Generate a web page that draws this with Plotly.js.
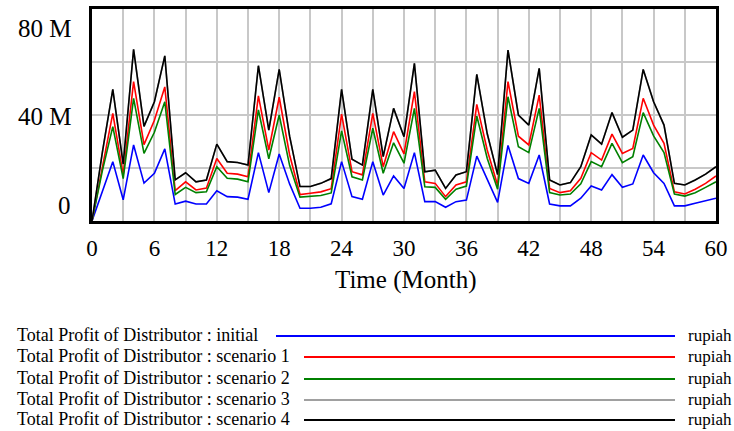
<!DOCTYPE html>
<html>
<head>
<meta charset="utf-8">
<script src="https://cdn.plot.ly/plotly-3.0.1.min.js"></script>
<style>html,body{margin:0;padding:0;background:#fff;}#chart{width:734px;height:431px;}</style>
</head>
<body>
<div id="chart"></div>
<script>
// Months 0..60
var months = [];
for (var i = 0; i <= 60; i++) months.push(i);

// Values in millions of rupiah
var initial = [0, 11.5, 22.4, 8, 28.7, 14.3, 18, 27.2, 6.4, 7.5,
  6.4, 6.4, 11.4, 9.2, 9, 8.2, 25.8, 10.7, 25.3, 14,
  4.8, 4.8, 5.2, 6.5, 22.4, 9.2, 8.2, 22.4, 9.8, 17,
  12.3, 25.8, 7.3, 7.3, 5.2, 7.3, 7.9, 24.5, 15.5, 7,
  28.5, 16, 14.2, 24.9, 6.4, 5.7, 5.7, 8.6, 13.2, 11.7,
  17.5, 12.7, 14, 24.9, 18.2, 14.2, 5.7, 5.7, 6.7, 7.7, 8.6];
var scenario1 = [0, 21, 40.6, 17.5, 52.6, 28.8, 38, 50.6, 11.5, 14.8,
  11.7, 12.4, 23.6, 18, 17.7, 16.7, 47.2, 26.8, 46.7, 25,
  10, 10.5, 11, 12.2, 40.3, 18.6, 17.4, 40.6, 20.5, 33.7,
  25.3, 48.8, 14.8, 14.2, 9.2, 13.6, 14.8, 44, 26.8, 13.5,
  52.6, 32, 28.7, 47.5, 12.3, 10.7, 11.4, 16.1, 25.8, 23,
  32.8, 25.5, 27.4, 46.3, 36.2, 29.3, 11, 10.2, 12, 14.2, 17];
var scenario2 = [0, 19, 35.6, 16, 46.3, 25.5, 33.5, 45, 10, 12.7,
  10.7, 11, 20.5, 16.1, 15.8, 14.8, 41.9, 23.5, 40, 21,
  9, 9.2, 9.6, 10.6, 34, 16.7, 15.5, 35, 18, 29.5,
  21.8, 42.5, 12.9, 12.7, 8.2, 12, 13.2, 39.6, 23.7, 12,
  46.9, 28, 25.8, 42.5, 10.7, 9.8, 10.2, 14, 22.4, 20.5,
  29.3, 22, 24.3, 40.9, 32.1, 25.8, 10.2, 9.4, 10.7, 12.7, 14.8];
var scenario3 = [0, 26, 49.7, 21.5, 64.8, 35.7, 45, 62.3, 15.5, 18.2,
  14.8, 15.5, 29, 22.4, 22.1, 21.1, 58.6, 34.3, 57.2, 32,
  13, 13, 14.2, 16, 49.7, 23.3, 21.1, 49.7, 24.3, 42.5,
  31.8, 59.5, 18.6, 19.2, 12.3, 17.4, 18.6, 55.3, 33, 17.5,
  64.5, 40, 36.2, 57.6, 15.5, 13.6, 14.5, 20.5, 32.5, 29,
  40.9, 31.6, 34.3, 57.2, 45, 36.2, 14.2, 13.6, 15.5, 17.7, 20.5];
var scenario4 = [0, 26, 49.7, 21.5, 64.8, 35.7, 45, 62.3, 15.5, 18.2,
  14.8, 15.5, 29, 22.4, 22.1, 21.1, 58.6, 34.3, 57.2, 32,
  13, 13, 14.2, 16, 49.7, 23.3, 21.1, 49.7, 24.3, 42.5,
  31.8, 59.5, 18.6, 19.2, 12.3, 17.4, 18.6, 55.3, 33, 17.5,
  64.5, 40, 36.2, 57.6, 15.5, 13.6, 14.5, 20.5, 32.5, 29,
  40.9, 31.6, 34.3, 57.2, 45, 36.2, 14.2, 13.6, 15.5, 17.7, 20.5];

var seriesNames = ["Total Profit of Distributor : initial",
  "Total Profit of Distributor : scenario 1",
  "Total Profit of Distributor : scenario 2",
  "Total Profit of Distributor : scenario 3",
  "Total Profit of Distributor : scenario 4"];
var seriesUnits = ["rupiah", "rupiah", "rupiah", "rupiah", "rupiah"];
var seriesData = [initial, scenario1, scenario2, scenario3, scenario4];
var seriesColors = ["#0000ff", "#ff0000", "#008000", "#a0a0a0", "#000000"];

var xTickVals = [0, 3, 6, 9, 12, 15, 18, 21, 24, 27, 30, 33, 36, 39, 42, 45, 48, 51, 54, 57, 60];
var xTickText = ["0", "", "6", "", "12", "", "18", "", "24", "", "30", "", "36", "", "42", "", "48", "", "54", "", "60"];
var yLabels = ["80 M", "40 M", "0"];

var traces = seriesData.map(function (d, k) {
  return {
    x: months, y: d, type: "scatter", mode: "lines",
    name: seriesNames[k], line: {color: seriesColors[k], width: 1.6},
    hoverinfo: "skip", showlegend: false
  };
});

// Geometry (pixels) of plot area
var L = 92, R = 716, T = 9, B = 221;
var W = 734, H = 431;
function px(X) { return (X - L) / (R - L); }
function py(Y) { return (B - Y) / (B - T); }

var serif = "Liberation Serif, Times New Roman, serif";
var annotations = [];
var shapes = [];

// y-axis labels (Vensim style placement)
var yLabelPix = [28, 116, 205];
yLabels.forEach(function (t, i) {
  annotations.push({text: t, xref: "paper", yref: "paper", x: px(73), y: py(yLabelPix[i]),
    xanchor: "right", yanchor: "middle", showarrow: false,
    font: {family: serif, size: 25, color: "#000"}});
});
// x axis title
annotations.push({text: "Time (Month)", xref: "paper", yref: "paper", x: px(405), y: py(280),
  xanchor: "center", yanchor: "middle", showarrow: false,
  font: {family: serif, size: 25, color: "#000"}});

// legend rows
var rowY = [335, 356, 378, 399, 419];
var lineStart = [276, 304, 304, 304, 304];
seriesNames.forEach(function (n, i) {
  annotations.push({text: n, xref: "paper", yref: "paper", x: px(15), y: py(rowY[i]),
    xanchor: "left", yanchor: "middle", showarrow: false,
    font: {family: serif, size: 18, color: "#000"}});
  annotations.push({text: seriesUnits[i], xref: "paper", yref: "paper", x: px(733), y: py(rowY[i]),
    xanchor: "right", yanchor: "middle", showarrow: false, borderpad: 0,
    font: {family: serif, size: 17, color: "#000"}});
  shapes.push({type: "line", xref: "paper", yref: "paper",
    x0: px(lineStart[i]), x1: px(675), y0: py(rowY[i] + 1), y1: py(rowY[i] + 1),
    line: {color: seriesColors[i], width: 2}});
});

var layout = {
  width: W, height: H,
  margin: {l: L, r: W - R, t: T, b: H - B, pad: 0},
  paper_bgcolor: "#fff", plot_bgcolor: "#fff",
  showlegend: false,
  xaxis: {
    range: [0, 60], tickvals: xTickVals, ticktext: xTickText,
    showgrid: true, gridcolor: "#c8c8c8", gridwidth: 2,
    zeroline: false, showline: true, linecolor: "#000", linewidth: 3, mirror: true,
    ticks: "", ticklabelstandoff: 4,
    tickfont: {family: serif, size: 23, color: "#000"}, fixedrange: true
  },
  yaxis: {
    range: [0, 80], dtick: 20, showticklabels: false,
    showgrid: true, gridcolor: "#c8c8c8", gridwidth: 2,
    zeroline: false, showline: true, linecolor: "#000", linewidth: 3, mirror: true,
    ticks: "", fixedrange: true
  },
  annotations: annotations,
  shapes: shapes
};

Plotly.newPlot("chart", traces, layout, {displayModeBar: false, staticPlot: true});
</script>
</body>
</html>
